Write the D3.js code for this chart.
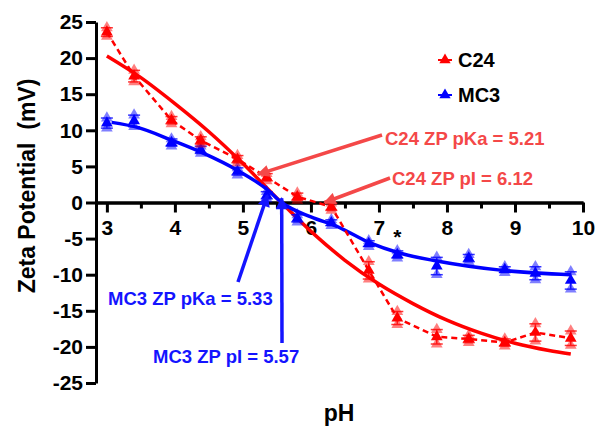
<!DOCTYPE html>
<html>
<head>
<meta charset="utf-8">
<script src="https://cdn.jsdelivr.net/npm/d3@7"></script>
<style>
  body { margin: 0; background: #fff; }
  text { font-family: "Liberation Sans", Arial, sans-serif; font-weight: bold; white-space: pre; }
</style>
</head>
<body>
<svg id="chart" width="600" height="427"></svg>
<script>
// measured pH values
var pH = [3.0, 3.4, 3.95, 4.38, 4.92, 5.35, 5.8, 6.3, 6.85, 7.27, 7.85, 8.32, 8.85, 9.3, 9.82];

// C24 zeta potential (mean, sd)
var c24Mean = [23.6, 17.5, 11.4, 8.6, 6.0, 3.5, 0.8, -0.6, -9.4, -16.0, -18.6, -18.9, -19.4, -18.0, -18.8];
var c24Sd = [0.6, 0.8, 0.5, 0.5, 0.5, 0.5, 0.5, 0.5, 1.2, 0.9, 1.0, 0.5, 0.5, 1.2, 1.0];

// MC3 zeta potential (mean, sd)
var mc3Mean = [11.0, 11.3, 8.3, 7.3, 4.3, 1.0, -2.2, -2.8, -5.7, -7.2, -8.8, -7.7, -9.3, -9.8, -10.8];
var mc3Sd = [0.7, 0.8, 0.5, 0.5, 0.5, 0.5, 0.5, 0.4, 0.4, 0.5, 1.2, 0.5, 0.4, 0.9, 1.2];

// fitted curves
var c24FitPH = [3.0, 3.5, 4.0, 4.5, 5.0, 5.5, 6.0, 6.5, 7.0, 7.5, 8.0, 8.5, 9.0, 9.5, 9.82];
var c24FitV = [20.3, 17.3, 13.7, 9.8, 5.4, 0.6, -4.0, -8.0, -11.3, -14.0, -16.3, -18.1, -19.5, -20.5, -21.0];
var mc3FitPH = [3.07, 3.45, 3.96, 4.4, 4.93, 5.37, 5.57, 6.0, 6.38, 6.87, 7.3, 7.85, 8.82, 9.82];
var mc3FitV = [11.1, 10.4, 8.6, 6.9, 4.4, 1.7, 0, -2.0, -3.3, -5.6, -7.0, -8.1, -9.4, -10.0];

var xTicks = [3, 4, 5, 6, 7, 8, 9, 10],
	xMinor = [3.5, 4.5, 5.5, 6.5, 7.5, 8.5, 9.5],
	yTicks = [-25, -20, -15, -10, -5, 0, 5, 10, 15, 20, 25];

var red = "#ff0000",
	blue = "#0000ff",
	noteRed = "#f44848",
	noteBlue = "#1414ff";

var svg = d3.select("#chart");

var x = d3.scaleLinear().domain([2.84, 10]).range([96, 583]);
var y = d3.scaleLinear().domain([-25, 25]).range([383, 22]);

// axes (plain hyphen minus, as in the figure)
var yAxis = svg.append("g")
	.attr("transform", "translate(96,0)")
	.call(d3.axisLeft(y).tickValues(yTicks).tickSize(10).tickSizeOuter(0).tickPadding(3)
		.tickFormat(function(d) { return String(d); }));

var xMinorAxis = svg.append("g")
	.attr("transform", "translate(0," + y(0) + ")")
	.call(d3.axisBottom(x).tickValues(xMinor).tickSize(6).tickSizeOuter(0).tickFormat(""));

var xAxis = svg.append("g")
	.attr("transform", "translate(0," + y(0) + ")")
	.call(d3.axisBottom(x).tickValues(xTicks).tickSize(10).tickSizeOuter(0).tickPadding(8));

[yAxis, xAxis, xMinorAxis].forEach(function(g) {
	g.selectAll("path, line").attr("stroke", "#000").attr("stroke-width", 3);
	g.selectAll("text").attr("fill", "#000").style("font-size", "21px");
});

// axis titles
svg.append("text")
	.attr("transform", "translate(35,186) rotate(-90)")
	.attr("text-anchor", "middle")
	.style("font-size", "23px")
	.text("Zeta Potential  (mV)");

svg.append("text")
	.attr("x", 339).attr("y", 421)
	.attr("text-anchor", "middle")
	.style("font-size", "23px")
	.text("pH");

// fitted curves
var line = d3.line()
	.x(function(d) { return x(d[0]); })
	.y(function(d) { return y(d[1]); })
	.curve(d3.curveMonotoneX);

svg.append("path")
	.datum(d3.zip(c24FitPH, c24FitV))
	.attr("d", line)
	.attr("fill", "none")
	.attr("stroke", red)
	.attr("stroke-width", 3.5);

svg.append("path")
	.datum(d3.zip(mc3FitPH, mc3FitV))
	.attr("d", line)
	.attr("fill", "none")
	.attr("stroke", blue)
	.attr("stroke-width", 3.5);

// dashed line through C24 means
svg.append("path")
	.datum(d3.zip(pH, c24Mean))
	.attr("d", d3.line().x(function(d) { return x(d[0]); }).y(function(d) { return y(d[1]); }))
	.attr("fill", "none")
	.attr("stroke", red)
	.attr("stroke-width", 2.5)
	.attr("stroke-dasharray", "6,4");

var tri = d3.symbol().type(d3.symbolTriangle).size(60);

function drawSeries(means, sds, color) {
	var pts = pH.map(function(p, i) { return { p: p, m: means[i], s: sds[i] }; });
	var g = svg.append("g");

	// replicate triangles
	g.selectAll(".rep-hi").data(pts).enter().append("path")
		.attr("d", tri)
		.attr("transform", function(d) { return "translate(" + x(d.p) + "," + y(d.m + d.s) + ")"; })
		.attr("fill", color).attr("opacity", 0.5);
	g.selectAll(".rep-lo").data(pts).enter().append("path")
		.attr("d", tri)
		.attr("transform", function(d) { return "translate(" + x(d.p) + "," + y(d.m - d.s) + ")"; })
		.attr("fill", color).attr("opacity", 0.5);

	// error bars
	var eb = g.selectAll(".eb").data(pts).enter().append("g")
		.attr("stroke", color).attr("stroke-width", 1.5).attr("opacity", 0.8);
	eb.append("line")
		.attr("x1", function(d) { return x(d.p); }).attr("x2", function(d) { return x(d.p); })
		.attr("y1", function(d) { return y(d.m + d.s); }).attr("y2", function(d) { return y(d.m - d.s); });
	eb.append("line")
		.attr("x1", function(d) { return x(d.p) - 6; }).attr("x2", function(d) { return x(d.p) + 6; })
		.attr("y1", function(d) { return y(d.m + d.s); }).attr("y2", function(d) { return y(d.m + d.s); });
	eb.append("line")
		.attr("x1", function(d) { return x(d.p) - 6; }).attr("x2", function(d) { return x(d.p) + 6; })
		.attr("y1", function(d) { return y(d.m - d.s); }).attr("y2", function(d) { return y(d.m - d.s); });

	// mean triangles
	g.selectAll(".mean").data(pts).enter().append("path")
		.attr("d", tri)
		.attr("transform", function(d) { return "translate(" + x(d.p) + "," + y(d.m) + ")"; })
		.attr("fill", color);
}

drawSeries(mc3Mean, mc3Sd, blue);
drawSeries(c24Mean, c24Sd, red);

// legend
var legend = [["C24", red, 60], ["MC3", blue, 95]];
legend.forEach(function(l) {
	var lg = svg.append("g").attr("transform", "translate(445," + l[2] + ")");
	lg.append("path").attr("d", d3.symbol().type(d3.symbolTriangle).size(55)).attr("fill", l[1]);
	lg.append("line").attr("x1", -7).attr("x2", 7).attr("stroke", l[1]).attr("stroke-width", 2);
	lg.append("text").attr("x", 13).attr("y", 7).style("font-size", "20px").attr("fill", "#000").text(l[0]);
});

// significance mark
svg.append("text")
	.attr("x", x(7.27)).attr("y", 244)
	.attr("text-anchor", "middle")
	.style("font-size", "21px")
	.text("*");

// annotation arrows
var defs = svg.append("defs");
[["arrRed", noteRed], ["arrBlue", noteBlue]].forEach(function(a) {
	defs.append("marker")
		.attr("id", a[0])
		.attr("viewBox", "0 0 10 10")
		.attr("refX", 9).attr("refY", 5)
		.attr("markerWidth", 4.5).attr("markerHeight", 3.5)
		.attr("markerUnits", "strokeWidth")
		.attr("orient", "auto")
		.append("path").attr("d", "M0,0L10,5L0,10Z").attr("fill", a[1]);
});

var notes = [
	{ text: "C24 ZP pKa = 5.21", color: noteRed, marker: "arrRed", tx: 385, ty: 145, x1: 382, y1: 135, p: 5.22, v: 3.9 },
	{ text: "C24 ZP pI = 6.12", color: noteRed, marker: "arrRed", tx: 392, ty: 185, x1: 390, y1: 178, p: 6.2, v: 0 },
	{ text: "MC3 ZP pKa = 5.33", color: noteBlue, marker: "arrBlue", tx: 108, ty: 305, x1: 238, y1: 282, p: 5.36, v: 1.0 },
	{ text: "MC3 ZP pI = 5.57", color: noteBlue, marker: "arrBlue", tx: 153, ty: 363, x1: 282, y1: 343, p: 5.57, v: 0.6 }
];

notes.forEach(function(n) {
	svg.append("line")
		.attr("x1", n.x1).attr("y1", n.y1)
		.attr("x2", x(n.p)).attr("y2", y(n.v))
		.attr("stroke", n.color)
		.attr("stroke-width", 3.5)
		.attr("marker-end", "url(#" + n.marker + ")");
	svg.append("text")
		.attr("x", n.tx).attr("y", n.ty)
		.attr("fill", n.color)
		.style("font-size", "18.5px")
		.text(n.text);
});
</script>
</body>
</html>
